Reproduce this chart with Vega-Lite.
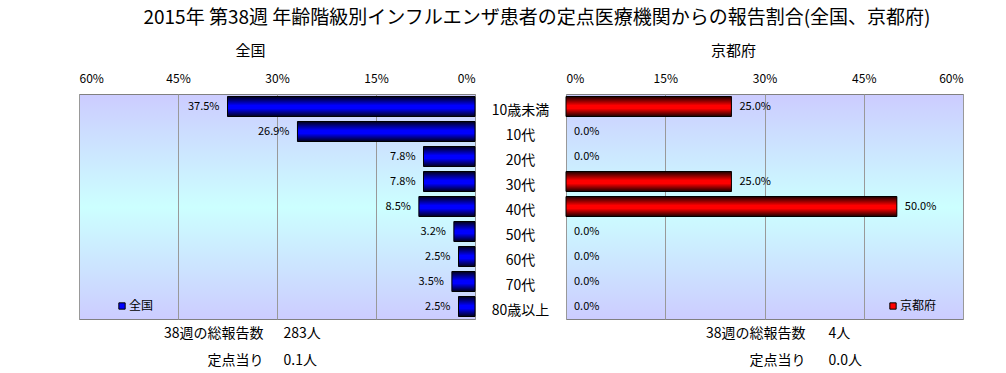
{
  "$schema": "https://vega.github.io/schema/vega-lite/v6.json",
  "padding": {"left": 78, "top": 8, "right": 5, "bottom": 4},
  "background": "white",
  "title": {"text": "2015年 第38週 年齢階級別インフルエンザ患者の定点医療機関からの報告割合(全国、京都府)", "fontSize": 19, "fontWeight": "normal", "anchor": "middle", "dx": 16, "offset": 15, "color": "#000"},
  "data": {"values": [
    {"age": "10歳未満", "region": "全国", "value": 0.375},
    {"age": "10代", "region": "全国", "value": 0.269},
    {"age": "20代", "region": "全国", "value": 0.078},
    {"age": "30代", "region": "全国", "value": 0.078},
    {"age": "40代", "region": "全国", "value": 0.085},
    {"age": "50代", "region": "全国", "value": 0.032},
    {"age": "60代", "region": "全国", "value": 0.025},
    {"age": "70代", "region": "全国", "value": 0.035},
    {"age": "80歳以上", "region": "全国", "value": 0.025},
    {"age": "10歳未満", "region": "京都府", "value": 0.25},
    {"age": "10代", "region": "京都府", "value": 0.0},
    {"age": "20代", "region": "京都府", "value": 0.0},
    {"age": "30代", "region": "京都府", "value": 0.25},
    {"age": "40代", "region": "京都府", "value": 0.5},
    {"age": "50代", "region": "京都府", "value": 0.0},
    {"age": "60代", "region": "京都府", "value": 0.0},
    {"age": "70代", "region": "京都府", "value": 0.0},
    {"age": "80歳以上", "region": "京都府", "value": 0.0}
  ]},
  "spacing": 0,
  "bounds": "flush",
  "resolve": {"scale": {"color": "independent"}, "legend": {"color": "independent"}},
  "hconcat": [
    {
      "width": 396, "height": 225,
      "view": {"stroke": "#808080", "strokeWidth": 1, "fill": {"gradient": "linear", "x1": 0, "y1": 0, "x2": 0, "y2": 1, "stops": [{"offset": 0, "color": "#ccccff"}, {"offset": 0.5, "color": "#ccffff"}, {"offset": 1, "color": "#ccccff"}]}},
      "transform": [{"filter": "datum.region === '全国'"}],
      "encoding": {
        "y": {"field": "age", "type": "nominal", "sort": null, "axis": null, "scale": {"domain": ["10歳未満", "10代", "20代", "30代", "40代", "50代", "60代", "70代", "80歳以上"], "paddingInner": 0.2, "paddingOuter": 0.1}}
      },
      "layer": [
        {
          "transform": [{"filter": "datum.value > 0"}],
          "mark": {"type": "bar"},
          "encoding": {
            "x": {"field": "value", "type": "quantitative", "scale": {"domain": [0, 0.6], "reverse": true, "nice": false},
              "axis": {"orient": "top", "values": [0, 0.15, 0.3, 0.45, 0.6], "format": ".0%", "grid": true, "gridColor": "#999999", "ticks": false, "domain": false, "labelPadding": 9, "labelFontSize": 12, "labelColor": "#000",
                "title": "全国", "titleX": 171, "titleY": -44, "titleBaseline": "middle", "titleAlign": "center", "titleFontSize": 15, "titleFontWeight": "normal", "titleColor": "#000"}},
            "color": {"field": "region", "type": "nominal", "scale": {"range": ["#0000ff"]},
              "legend": {"orient": "none", "legendX": 37, "legendY": 206, "title": null, "symbolType": "square", "symbolSize": 40, "symbolStrokeColor": "#000", "symbolStrokeWidth": 1, "labelFontSize": 12, "labelColor": "#000", "labelOffset": 1, "padding": 0}}
          }
        },
        {
          "transform": [{"filter": "datum.value > 0"}],
          "mark": {"type": "bar", "stroke": "#000", "strokeWidth": 1, "fill": {"gradient": "linear", "x1": 0, "y1": 0, "x2": 0, "y2": 1, "stops": [{"offset": 0, "color": "#00001a"}, {"offset": 0.45, "color": "#0000ff"}, {"offset": 0.6, "color": "#0000ff"}, {"offset": 1, "color": "#00001a"}]}},
          "encoding": {
            "x": {"field": "value", "type": "quantitative", "scale": {"domain": [0, 0.6], "reverse": true, "nice": false},
              "axis": {"orient": "bottom", "labels": false, "ticks": false, "domain": false, "grid": false,
                "title": ["38週の総報告数", "定点当り"], "titleX": 184, "titleY": 7, "titleAlign": "right", "titleBaseline": "top", "titleLineHeight": 27, "titleFontSize": 14, "titleFontWeight": "normal", "titleColor": "#000"}}
          }
        },
        {
          "mark": {"type": "text", "align": "right", "baseline": "middle", "dx": -8, "fontSize": 11, "color": "#000"},
          "encoding": {
            "x": {"field": "value", "type": "quantitative", "scale": {"domain": [0, 0.6], "reverse": true, "nice": false},
              "axis": {"orient": "bottom", "labels": false, "ticks": false, "domain": false, "grid": false,
                "title": ["283人", "0.1人"], "titleX": 204, "titleY": 7, "titleAlign": "left", "titleBaseline": "top", "titleLineHeight": 27, "titleFontSize": 14, "titleFontWeight": "normal", "titleColor": "#000"}},
            "text": {"field": "value", "type": "quantitative", "format": ".1%"}
          }
        }
      ],
      "resolve": {"axis": {"x": "independent"}}
    },
    {
      "width": 91, "height": 225,
      "view": {"stroke": null},
      "transform": [{"filter": "datum.region === '全国'"}],
      "mark": {"type": "text", "fontSize": 14, "dy": 4, "color": "#000", "baseline": "middle"},
      "encoding": {
        "y": {"field": "age", "type": "nominal", "sort": null, "axis": null, "scale": {"domain": ["10歳未満", "10代", "20代", "30代", "40代", "50代", "60代", "70代", "80歳以上"], "paddingInner": 0.2, "paddingOuter": 0.1}},
        "text": {"field": "age"}
      }
    },
    {
      "width": 397, "height": 225,
      "view": {"stroke": "#808080", "strokeWidth": 1, "fill": {"gradient": "linear", "x1": 0, "y1": 0, "x2": 0, "y2": 1, "stops": [{"offset": 0, "color": "#ccccff"}, {"offset": 0.5, "color": "#ccffff"}, {"offset": 1, "color": "#ccccff"}]}},
      "transform": [{"filter": "datum.region === '京都府'"}],
      "encoding": {
        "y": {"field": "age", "type": "nominal", "sort": null, "axis": null, "scale": {"domain": ["10歳未満", "10代", "20代", "30代", "40代", "50代", "60代", "70代", "80歳以上"], "paddingInner": 0.2, "paddingOuter": 0.1}}
      },
      "layer": [
        {
          "transform": [{"filter": "datum.value > 0"}],
          "mark": {"type": "bar"},
          "encoding": {
            "x": {"field": "value", "type": "quantitative", "scale": {"domain": [0, 0.6], "nice": false},
              "axis": {"orient": "top", "values": [0, 0.15, 0.3, 0.45, 0.6], "format": ".0%", "grid": true, "gridColor": "#999999", "ticks": false, "domain": false, "labelPadding": 9, "labelFontSize": 12, "labelColor": "#000",
                "title": "京都府", "titleX": 167, "titleY": -44, "titleBaseline": "middle", "titleAlign": "center", "titleFontSize": 15, "titleFontWeight": "normal", "titleColor": "#000"}},
            "color": {"field": "region", "type": "nominal", "scale": {"range": ["#ff0000"]},
              "legend": {"orient": "none", "legendX": 321, "legendY": 206, "title": null, "symbolType": "square", "symbolSize": 40, "symbolStrokeColor": "#000", "symbolStrokeWidth": 1, "labelFontSize": 12, "labelColor": "#000", "labelOffset": 1, "padding": 0}}
          }
        },
        {
          "transform": [{"filter": "datum.value > 0"}],
          "mark": {"type": "bar", "stroke": "#000", "strokeWidth": 1, "fill": {"gradient": "linear", "x1": 0, "y1": 0, "x2": 0, "y2": 1, "stops": [{"offset": 0, "color": "#1a0000"}, {"offset": 0.45, "color": "#ff0000"}, {"offset": 0.6, "color": "#ff0000"}, {"offset": 1, "color": "#1a0000"}]}},
          "encoding": {
            "x": {"field": "value", "type": "quantitative", "scale": {"domain": [0, 0.6], "nice": false},
              "axis": {"orient": "bottom", "labels": false, "ticks": false, "domain": false, "grid": false,
                "title": ["38週の総報告数", "定点当り"], "titleX": 239, "titleY": 7, "titleAlign": "right", "titleBaseline": "top", "titleLineHeight": 27, "titleFontSize": 14, "titleFontWeight": "normal", "titleColor": "#000"}}
          }
        },
        {
          "mark": {"type": "text", "align": "left", "baseline": "middle", "dx": 8, "fontSize": 11, "color": "#000"},
          "encoding": {
            "x": {"field": "value", "type": "quantitative", "scale": {"domain": [0, 0.6], "nice": false},
              "axis": {"orient": "bottom", "labels": false, "ticks": false, "domain": false, "grid": false,
                "title": ["4人", "0.0人"], "titleX": 262, "titleY": 7, "titleAlign": "left", "titleBaseline": "top", "titleLineHeight": 27, "titleFontSize": 14, "titleFontWeight": "normal", "titleColor": "#000"}},
            "text": {"field": "value", "type": "quantitative", "format": ".1%"}
          }
        }
      ],
      "resolve": {"axis": {"x": "independent"}}
    }
  ],
  "config": {"font": "Noto Sans CJK JP", "view": {"stroke": null}}
}
